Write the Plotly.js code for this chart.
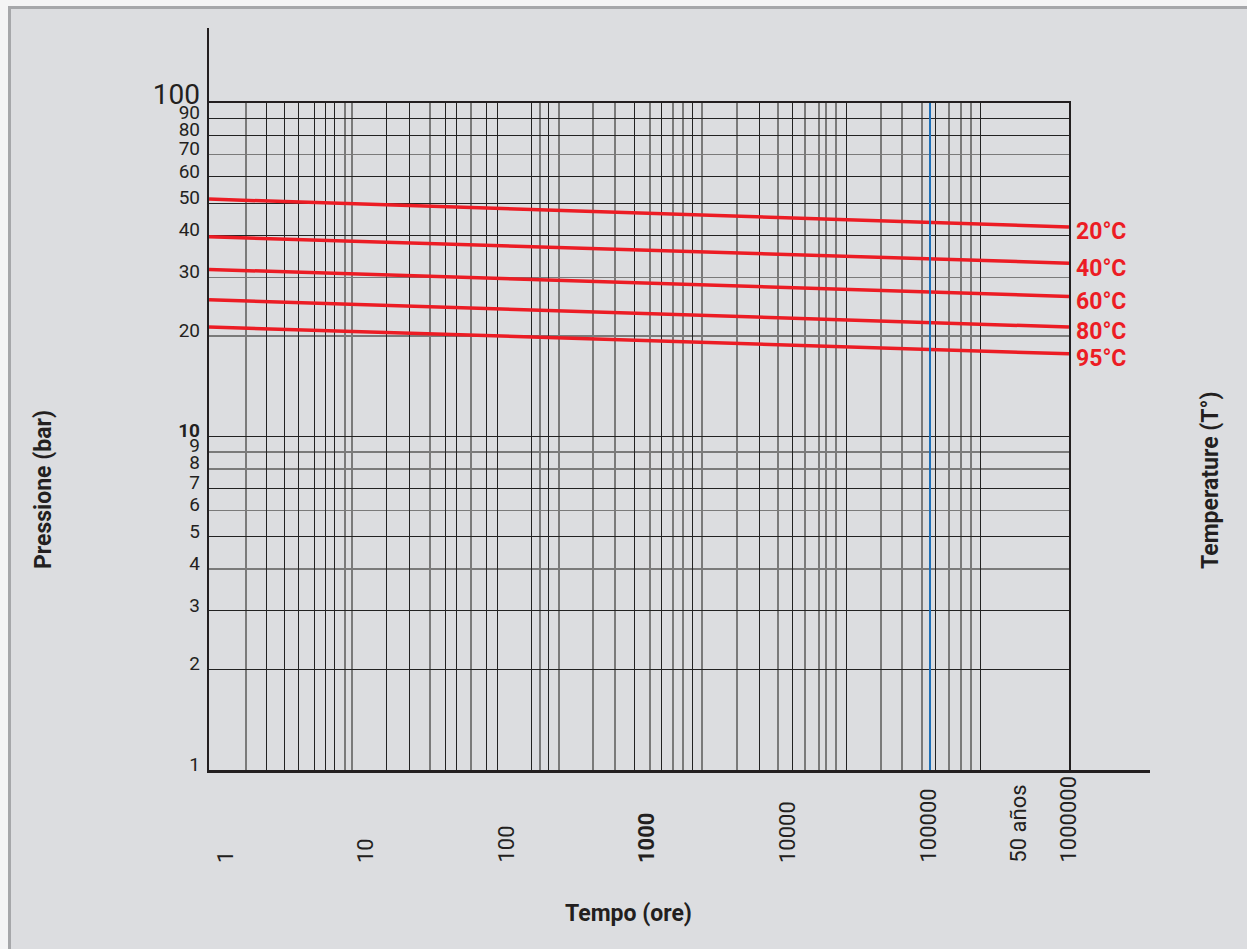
<!DOCTYPE html>
<html>
<head>
<meta charset="utf-8">
<script src="https://cdn.plot.ly/plotly-3.0.1.min.js"></script>
<style>
  html, body { margin: 0; padding: 0; background: #f4f4f5; overflow: hidden; }
  #frame { position: absolute; left: 8px; top: 6px; width: 1300px; height: 1000px;
           border-left: 3px solid #a6a7aa; border-top: 3px solid #a6a7aa; background: #dcdde0; }
  #chart { position: absolute; left: 0; top: 0; width: 1247px; height: 949px; }
</style>
</head>
<body>
<div id="frame"></div>
<div id="chart"></div>
<script>
// ---- data ----
const tempLabels = ['20°C', '40°C', '60°C', '80°C', '95°C'];
const lineTimes = [0.77, 1.0165e6];            // hours at left / right edge of the grid
const pressureStart = [51.5, 39.7, 31.7, 25.7, 21.3]; // bar at left edge
const pressureEnd = [42.5, 33.1, 26.3, 21.3, 17.7];   // bar at right edge

const blueLineHours = 1.042e5;

const xTickLabels = ['1', '10', '100', '<b>1000</b>', '10000', '100000', '50 años', '1000000'];
const xTickHours = [1, 10, 100, 1000, 10000, 100000, 438000, 1000000];

const yTickVals = [1, 2, 3, 4, 5, 6, 7, 8, 9, 10, 20, 30, 40, 50, 60, 70, 80, 90, 100];
const yTickText = ['1', '2', '3', '4', '5', '6', '7', '8', '9', '<b>10</b>', '20', '30', '40', '50', '60', '70', '80', '90',
                   '<span style="font-size:28px">100</span>'];

// vertical grid lines (hours), dark and grey ones as drawn
const xGridDark = [1.99, 2.63, 3.36, 4.3, 5.15, 5.97, 14.2, 20.7, 36.8, 44.1, 73.2, 86.3, 151, 202, 815, 1289, 2108,
                   6320, 11030, 26300, 113100, 236400];
const xGridGrey = [1.41, 7.15, 8.01, 28.8, 56.3, 175, 238, 416, 597, 1059, 1544, 1819, 2483, 4406, 8627, 13430,
                   16900, 18950, 22330, 46670, 65850, 91400, 142200, 173100, 204000];
// horizontal grid lines (bar)
const yGridDark = [2, 3, 5, 7, 10, 40, 50, 60, 80, 90];
const yGridGrey = [4, 6, 8, 9, 20, 30, 70];

// ---- styling ----
const FONT = 'Roboto, "Open Sans", sans-serif';
const INK = '#231f20';
const RED = '#ec1c24';
const DARK = '#222222';
const GREY = '#7a7a7a';

const W = 1247, H = 949;
const M = { l: 209, r: 97, t: 28, b: 179 };
const pw = W - M.l - M.r, ph = H - M.t - M.b;
const gridRightPx = 1069, gridTopPx = 103;
const xDomEnd = (gridRightPx - M.l) / pw;
const yDomEnd = (H - M.b - gridTopPx) / ph;

const traces = [];
tempLabels.forEach((t, i) => {
  traces.push({
    x: lineTimes, y: [pressureStart[i], pressureEnd[i]],
    mode: 'lines', line: { color: RED, width: 3.5 },
    xaxis: 'x', yaxis: 'y', hoverinfo: 'skip', showlegend: false, name: t
  });
});
traces.push({
  x: [blueLineHours, blueLineHours], y: [yTickVals[0], yTickVals[yTickVals.length - 1]],
  mode: 'lines', line: { color: '#1d6fb8', width: 2 },
  xaxis: 'x', yaxis: 'y', hoverinfo: 'skip', showlegend: false
});
traces.push({ x: [], y: [], xaxis: 'x', yaxis: 'y2', showlegend: false, hoverinfo: 'skip' });
traces.push({ x: [], y: [], xaxis: 'x3', yaxis: 'y3', showlegend: false, hoverinfo: 'skip' });

const annotations = [];
xTickLabels.forEach((lab, i) => {
  annotations.push({
    text: lab, xref: 'x', yref: 'paper', x: Math.log10(xTickHours[i]), y: 0,
    yshift: -95, xanchor: 'center', yanchor: 'bottom', textangle: -90,
    showarrow: false, font: { family: FONT, size: 22, color: INK }
  });
});
tempLabels.forEach((lab, i) => {
  annotations.push({
    text: '<b>' + lab + '</b>', xref: 'paper', yref: 'y', x: xDomEnd, y: Math.log10(pressureEnd[i]),
    xshift: 5, yshift: -5, xanchor: 'left', yanchor: 'middle', showarrow: false,
    font: { family: FONT, size: 23, color: RED }
  });
});
annotations.push({
  text: '<b>Pressione (bar)</b>', xref: 'paper', yref: 'paper',
  x: (43 - M.l) / pw, y: (H - M.b - 490) / ph, xanchor: 'center', yanchor: 'middle',
  textangle: -90, showarrow: false, font: { family: FONT, size: 23, color: INK }
});
annotations.push({
  text: '<b>Temperature (T°)</b>', xref: 'paper', yref: 'paper',
  x: (1211 - M.l) / pw, y: (H - M.b - 480) / ph, xanchor: 'center', yanchor: 'middle',
  textangle: -90, showarrow: false, font: { family: FONT, size: 23, color: INK }
});
annotations.push({
  text: '<b>Tempo (ore)</b>', xref: 'paper', yref: 'paper',
  x: (628 - M.l) / pw, y: (H - M.b - 913) / ph, xanchor: 'center', yanchor: 'middle',
  showarrow: false, font: { family: FONT, size: 23, color: INK }
});

const layout = {
  width: W, height: H, margin: M,
  paper_bgcolor: 'rgba(0,0,0,0)', plot_bgcolor: 'rgba(0,0,0,0)',
  font: { family: FONT, color: INK },
  showlegend: false,
  xaxis: {
    type: 'log', range: [-0.1139, 6.0071], domain: [0, xDomEnd], anchor: 'y',
    tickmode: 'array', tickvals: xGridDark, showticklabels: false, ticks: '',
    showgrid: true, gridcolor: DARK, gridwidth: 1,
    minor: { tickmode: 'array', tickvals: xGridGrey, showgrid: true, gridcolor: GREY, gridwidth: 1.5, ticks: '' },
    showline: true, mirror: true, linecolor: INK, linewidth: 2, zeroline: false, fixedrange: true
  },
  yaxis: {
    type: 'log', range: [0, 2], domain: [0, yDomEnd], anchor: 'x',
    tickmode: 'array', tickvals: yGridDark, showticklabels: false, ticks: '',
    showgrid: true, gridcolor: DARK, gridwidth: 1,
    minor: { tickmode: 'array', tickvals: yGridGrey, showgrid: true, gridcolor: GREY, gridwidth: 1.5, ticks: '' },
    showline: true, mirror: true, linecolor: INK, linewidth: 2, zeroline: false, fixedrange: true
  },
  yaxis2: {
    type: 'log', range: [0, 2], overlaying: 'y', anchor: 'x', side: 'left',
    tickmode: 'array', tickvals: yTickVals, ticktext: yTickText, ticks: '',
    showgrid: false, showline: false, zeroline: false,
    tickfont: { family: FONT, size: 19, color: INK },
    ticklabelshift: -6, ticklabelstandoff: 8, fixedrange: true
  },
  xaxis3: {
    domain: [0, 1], anchor: 'y3', range: [0, 1], showgrid: false, zeroline: false,
    showticklabels: false, ticks: '', showline: true, linecolor: INK, linewidth: 2.5, fixedrange: true
  },
  yaxis3: {
    domain: [0, 1], anchor: 'x3', range: [0, 1], showgrid: false, zeroline: false,
    showticklabels: false, ticks: '', showline: true, linecolor: INK, linewidth: 2.5, fixedrange: true
  },
  annotations: annotations
};

Plotly.newPlot('chart', traces, layout, { displayModeBar: false, staticPlot: true });
</script>
</body>
</html>
